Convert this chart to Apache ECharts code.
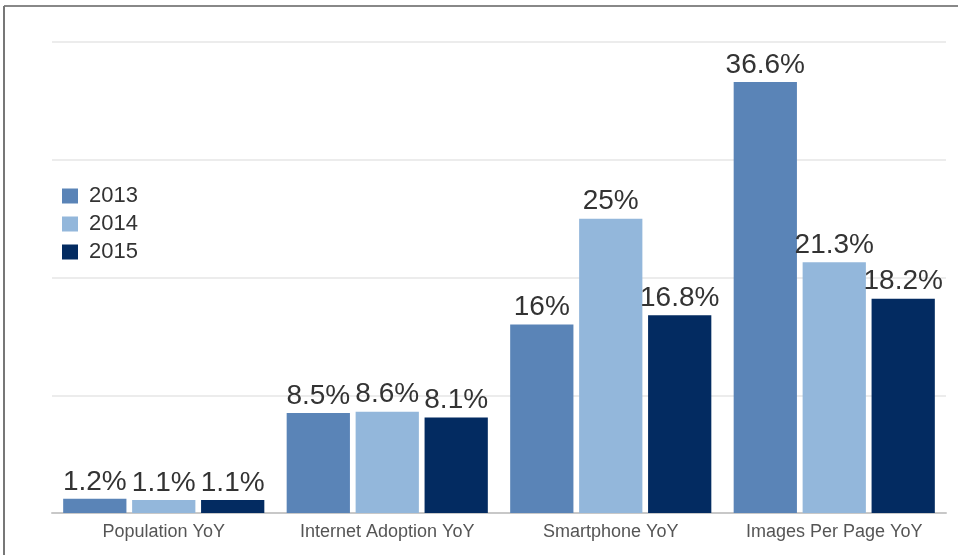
<!DOCTYPE html>
<html>
<head>
<meta charset="utf-8">
<style>
  html, body { margin: 0; padding: 0; background: #fff; }
  #chart { width: 958px; height: 555px; }
</style>
<script src="https://cdn.jsdelivr.net/npm/echarts@6/dist/echarts.min.js"></script>
</head>
<body>
<div id="chart"></div>
<script>
// Year-over-year growth, percent
const categories = ['Population YoY', 'Internet Adoption YoY', 'Smartphone YoY', 'Images Per Page YoY'];
const years = ['2013', '2014', '2015'];
const values2013 = [1.2, 8.5, 16, 36.6];
const values2014 = [1.1, 8.6, 25, 21.3];
const values2015 = [1.1, 8.1, 16.8, 18.2];
const yTicks = [0, 10, 20, 30, 40];

const colors = ['#5a84b7', '#93b7db', '#032b61'];
const font = '"Liberation Sans", Arial, Helvetica, sans-serif';

const chart = echarts.init(document.getElementById('chart'), null, { renderer: 'canvas' });

function barSeries(name, data, color) {
  return {
    name: name,
    type: 'bar',
    data: data,
    barGap: '9%',
    barCategoryGap: '10%',
    itemStyle: { color: color },
    label: {
      show: true,
      position: 'top',
      distance: 3,
      formatter: '{c}%',
      color: '#333',
      fontFamily: font,
      fontSize: 28
    }
  };
}

chart.setOption({
  animation: false,
  backgroundColor: '#fff',
  color: colors,
  grid: { left: 52, right: 12, top: 42, bottom: 42, containLabel: false },
  legend: {
    orient: 'vertical',
    left: 57,
    top: 180,
    itemWidth: 16,
    itemHeight: 15,
    itemGap: 6,
    icon: 'rect',
    data: years,
    textStyle: { color: '#333', fontFamily: font, fontSize: 22, lineHeight: 21, padding: [0, 0, 0, 6] }
  },
  xAxis: {
    type: 'category',
    data: categories,
    axisLine: { show: true, lineStyle: { color: '#c8c8c8', width: 2 } },
    axisTick: { show: false },
    axisLabel: { interval: 0, hideOverlap: false, color: '#555', fontFamily: font, fontSize: 18, margin: 10 }
  },
  yAxis: {
    type: 'value',
    min: yTicks[0],
    max: yTicks[yTicks.length - 1],
    interval: 10,
    axisLine: { show: false },
    axisTick: { show: false },
    axisLabel: { show: false },
    splitLine: { lineStyle: { color: '#ececec', width: 2 } }
  },
  series: [
    barSeries(years[0], values2013, colors[0]),
    barSeries(years[1], values2014, colors[1]),
    barSeries(years[2], values2015, colors[2])
  ],
  graphic: [
    { type: 'line', shape: { x1: 4, y1: 6, x2: 958, y2: 6 }, style: { stroke: '#888', lineWidth: 2 } },
    { type: 'line', shape: { x1: 4, y1: 6, x2: 4, y2: 555 }, style: { stroke: '#777', lineWidth: 2 } }
  ]
});
</script>
</body>
</html>
